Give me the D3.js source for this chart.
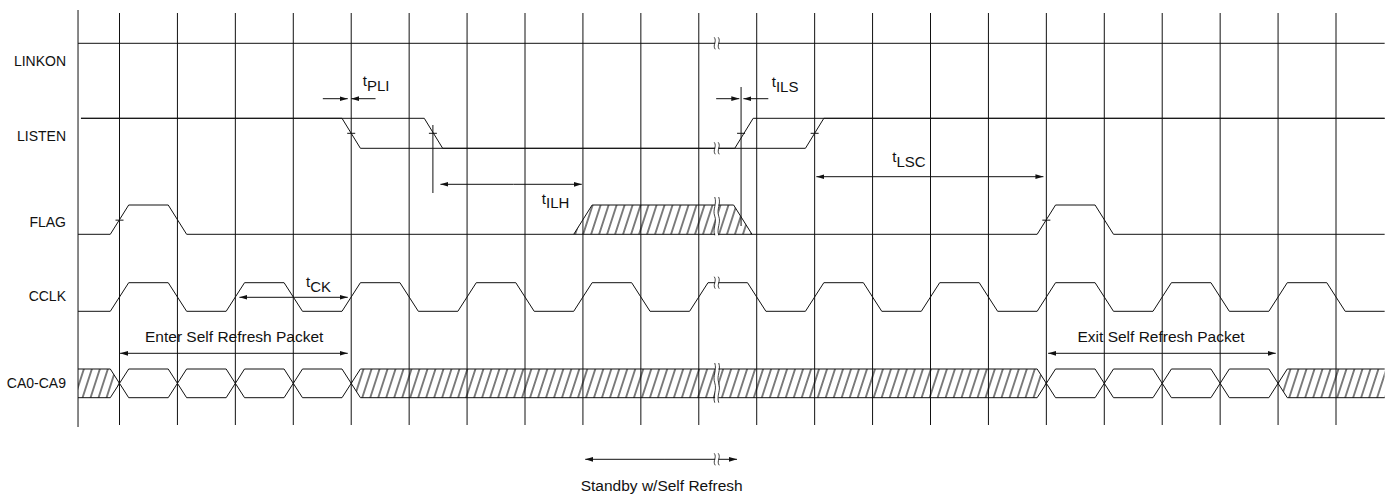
<!DOCTYPE html>
<html><head><meta charset="utf-8">
<script src="https://cdn.jsdelivr.net/npm/d3@7"></script>
<style>
body{margin:0;background:#fff}
text{font-family:"Liberation Sans",Arial,Helvetica,sans-serif;font-size:14px;fill:#111}
text.tim{font-size:15px}
text.pkt{font-size:15.5px}
</style>
</head><body>
<svg id="chart" width="1395" height="498"></svg>
<script>
// ---------------- DATA (time in clock half-cycles) ----------------
const gridTimes = [0,1,2,3,4,5,6,7,8,9,10,11,12,13,14,15,16,17,18,19,20,21];
const signalNames = ["LINKON","LISTEN","FLAG","CCLK","CA0-CA9"];
const timeStart = -0.716, timeEnd = 21.84;
// CCLK level between successive edges (before first edge ... after last edge)
const cclkEdges = [0,1,2,3,4,5,6,7,8,9,10,11,12,13,14,15,16,17,18,19,20,21];
const cclkLevels = [0,1,0,1,0,1,0,1,0,1,0,1,0,1,0,1,0,1,0,1,0,1,0];
// LISTEN: two traces (earliest / latest)
const listenEarlyEdges = [4, 10.78];
const listenLateEdges = [5.42, 12];
const listenLevels = [1,0,1];
const listenStart = -0.665;
// FLAG
const flagEdges = [0,1,16,17];
const flagLevels = [0,1,0,1,0];
const flagUnknown = [8, 10.76];
// CA0-CA9 bus
const enterPacketCells = [0,1,2,3];
const exitPacketCells = [16,17,18,19];
const caUnknown = [[null,0],[4,16],[20,null]];
// edge reference ticks
const listenTicks = [4, 5.41, 10.73, 12];
const flagTicks = [0, 16];
// timing break
const breakTime = 10.31;
// timing parameters: arrows [from,to] (head at 'to')
const arrowDefs = [
  {id:"tPLI", segs:[[3.51,3.94],[4.42,4.00]]},
  {id:"tILH", segs:[[6.8,5.54],[6.8,7.98]]},
  {id:"tILS", segs:[[10.30,10.70],[11.20,10.77]]},
  {id:"tLSC", segs:[[14,12.03],[14,15.95]]},
  {id:"tCK",  segs:[[3,2.07],[3,3.94]]},
  {id:"enter",segs:[[2,0.01],[2,3.94]]},
  {id:"exit", segs:[[18,16.03],[18,19.96]]},
  {id:"standby",segs:[[9.4,8.04],[9.4,10.66]]}
];
const timingLabels = [
  {id:"tPLI", main:"t", sub:"PLI", t:4.20},
  {id:"tILH", main:"t", sub:"ILH", t:7.29},
  {id:"tILS", main:"t", sub:"ILS", t:11.26},
  {id:"tLSC", main:"t", sub:"LSC", t:13.34},
  {id:"tCK",  main:"t", sub:"CK",  t:3.22}
];
const packetLabels = [
  {id:"enter", text:"Enter Self Refresh Packet", t:1.98},
  {id:"exit", text:"Exit Self Refresh Packet", t:17.98},
  {id:"standby", text:"Standby w/Self Refresh", t:9.36}
];
const markerTimes = [5.41, 10.73];

// ---------------- LAYOUT ----------------
const rowY = {
  "LINKON": {hi:43.3, label:66},
  "LISTEN": {hi:118.3, lo:148.3, label:140.5},
  "FLAG":   {hi:205, lo:234.3, label:226.5},
  "CCLK":   {hi:282.7, lo:311.3, label:300.5},
  "CA0-CA9":{hi:369, lo:397.7, label:387.7}
};
const arrowY = {tPLI:98.7, tILH:184.3, tILS:98.7, tLSC:176.7, tCK:297.3, enter:353.3, exit:353.3, standby:459.3};
const labelY = {tPLI:86, tILH:203.7, tILS:87, tLSC:162, tCK:287, enter:341.8, exit:341.8, standby:491};
const markerY = [[125,193],[87,226]];
const hw = 9.2;      // half transition width (px)
const subShift = 4.7;

const svg = d3.select("#chart");
const x = d3.scaleLinear().domain([0,21]).range([119.5,1336]);
const X0 = x(timeStart), X1 = x(timeEnd);
const ink = "#111";

const defs = svg.append("defs");
const pat = defs.append("pattern").attr("id","hatch").attr("patternUnits","userSpaceOnUse")
  .attr("width",7.6).attr("height",10).attr("patternTransform","rotate(18)");
pat.append("line").attr("x1",3.8).attr("x2",3.8).attr("y1",-2).attr("y2",12)
  .attr("stroke","#000").attr("stroke-width",1);
defs.append("marker").attr("id","ah").attr("viewBox","0 0 8 6").attr("refX",8).attr("refY",3)
  .attr("markerWidth",8).attr("markerHeight",6).attr("markerUnits","userSpaceOnUse")
  .attr("orient","auto").append("path").attr("d","M0,0.6L8,3L0,5.4Z").attr("fill",ink);

const line = d3.line();

// grid
svg.append("line").attr("x1",X0).attr("x2",X0).attr("y1",10).attr("y2",427).attr("stroke",ink).attr("stroke-width",1);
svg.append("g").selectAll("line").data(gridTimes).join("line")
  .attr("x1",d=>x(d)).attr("x2",d=>x(d)).attr("y1",13).attr("y2",425)
  .attr("stroke",ink).attr("stroke-width",1);

// labels
svg.append("g").selectAll("text").data(signalNames).join("text")
  .attr("x",66).attr("y",d=>rowY[d].label).attr("text-anchor","end").text(d=>d);

function wave(edges, levels, yhi, ylo, t0, t1){
  const yl = v => v ? yhi : ylo;
  const pts = [[x(t0), yl(levels[0])]];
  edges.forEach((e,i)=>{
    pts.push([x(e)-hw, yl(levels[i])]);
    pts.push([x(e)+hw, yl(levels[i+1])]);
  });
  pts.push([x(t1), yl(levels[levels.length-1])]);
  return pts;
}
const g = svg.append("g").attr("fill","none").attr("stroke",ink).attr("stroke-width",1);

// LINKON
g.append("path").attr("d", line([[X0,rowY.LINKON.hi],[X1,rowY.LINKON.hi]]));
// LISTEN
const L = rowY.LISTEN;
g.append("path").attr("d", line(wave(listenEarlyEdges, listenLevels, L.hi, L.lo, listenStart, timeEnd)));
g.append("path").attr("d", line(wave(listenLateEdges, listenLevels, L.hi, L.lo, listenStart, timeEnd)));
// FLAG
const F = rowY.FLAG;
svg.append("path").attr("fill","url(#hatch)").attr("stroke",ink).attr("stroke-width",1)
  .attr("d", line([[x(flagUnknown[0])-hw,F.lo],[x(flagUnknown[0])+hw,F.hi],[x(flagUnknown[1])-hw,F.hi],[x(flagUnknown[1])+hw,F.lo]]));
g.append("path").attr("d", line(wave(flagEdges, flagLevels, F.hi, F.lo, timeStart, timeEnd)));
// CCLK
const C = rowY.CCLK;
g.append("path").attr("d", line(wave(cclkEdges, cclkLevels, C.hi, C.lo, timeStart, timeEnd)));
// CA bus
const B = rowY["CA0-CA9"]; const bm = (B.hi+B.lo)/2;
[...enterPacketCells, ...exitPacketCells].forEach(k=>{
  g.append("path").attr("d", line([[x(k),bm],[x(k)+hw,B.hi],[x(k+1)-hw,B.hi],[x(k+1),bm],[x(k+1)-hw,B.lo],[x(k)+hw,B.lo]])+"Z");
});
caUnknown.forEach(([a,b])=>{
  const left = a===null ? [[X0,B.lo],[X0,B.hi]] : [[x(a)+hw,B.lo],[x(a),bm],[x(a)+hw,B.hi]];
  const right = b===null ? [[X1,B.hi],[X1,B.lo]] : [[x(b)-hw,B.hi],[x(b),bm],[x(b)-hw,B.lo]];
  svg.append("path").attr("fill","url(#hatch)").attr("stroke","none").attr("d", line([...left,...right])+"Z");
  const la = a===null ? [[X0,B.hi]] : [[x(a),bm],[x(a)+hw,B.hi]];
  const lb = a===null ? [[X0,B.lo]] : [[x(a),bm],[x(a)+hw,B.lo]];
  const ra = b===null ? [[X1,B.hi]] : [[x(b)-hw,B.hi],[x(b),bm]];
  const rb = b===null ? [[X1,B.lo]] : [[x(b)-hw,B.lo],[x(b),bm]];
  g.append("path").attr("d", line([...la,...ra]));
  g.append("path").attr("d", line([...lb,...rb]));
});

// ticks
listenTicks.forEach(t=> g.append("path").attr("d", line([[x(t)-4,(L.hi+L.lo)/2],[x(t)+4,(L.hi+L.lo)/2]])));
flagTicks.forEach(t=> g.append("path").attr("d", line([[x(t)-4,(F.hi+F.lo)/2+0.5],[x(t)+4,(F.hi+F.lo)/2+0.5]])));
// marker verticals
markerTimes.forEach((t,i)=> g.append("path").attr("d", line([[x(t),markerY[i][0]],[x(t),markerY[i][1]]])));

// arrows
arrowDefs.forEach(a=>{
  a.segs.forEach(([f,t])=>{
    svg.append("path").attr("fill","none").attr("stroke",ink).attr("stroke-width",1)
      .attr("marker-end","url(#ah)")
      .attr("d", line([[x(f),arrowY[a.id]],[x(t),arrowY[a.id]]]));
  });
});

// timing labels
timingLabels.forEach(l=>{
  const tx = svg.append("text").attr("class","tim").attr("x",x(l.t)).attr("y",labelY[l.id]);
  tx.append("tspan").text(l.main);
  tx.append("tspan").attr("dy",subShift).text(l.sub);
});
packetLabels.forEach(l=>{
  svg.append("text").attr("class","pkt").attr("x",x(l.t)).attr("y",labelY[l.id]).attr("text-anchor","middle").text(l.text);
});

// break symbols
const bx = x(breakTime);
function brk(y1,y2){
  svg.append("rect").attr("x",bx-1.6).attr("y",y1).attr("width",3.2).attr("height",y2-y1).attr("fill","#fff");
  [-2,2].forEach(dx=>{
    const cx = bx+dx, h=y2-y1;
    let d;
    if (h<16) d = `M${cx-0.5},${y1} C${cx+2.5},${y1+h*0.35} ${cx-2.5},${y1+h*0.65} ${cx+0.5},${y2}`;
    else d = `M${cx},${y1} C${cx+2.5},${y1+h*0.18} ${cx-2.5},${y1+h*0.32} ${cx},${y1+h*0.5} C${cx+2.5},${y1+h*0.68} ${cx-2.5},${y1+h*0.82} ${cx},${y2}`;
    svg.append("path").attr("d",d).attr("fill","none").attr("stroke",ink).attr("stroke-width",0.8);
  });
}
brk(rowY.LINKON.hi-6, rowY.LINKON.hi+6);
brk(L.lo-6, L.lo+6);
brk(F.hi-8, F.lo+1);
brk(C.hi-6, C.hi+6);
brk(B.hi-6, B.lo+5);
brk(arrowY.standby-6, arrowY.standby+6);
</script>
</body></html>
